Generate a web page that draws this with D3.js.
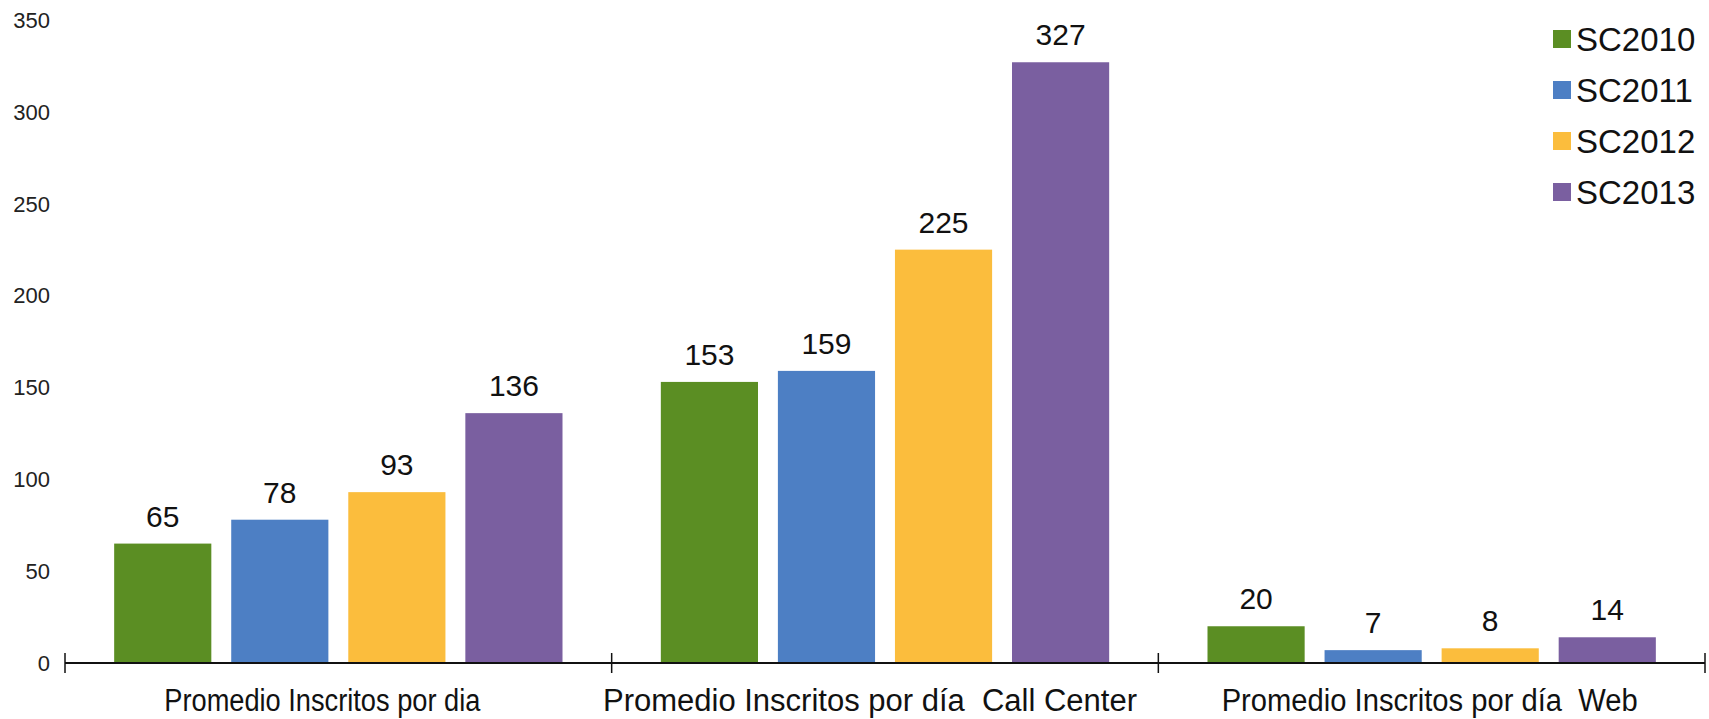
<!DOCTYPE html>
<html>
<head>
<meta charset="utf-8">
<script src="https://cdn.jsdelivr.net/npm/d3@7"></script>
<style>
  html, body { margin: 0; padding: 0; background: #fff; }
  svg { display: block; font-family: "Liberation Sans", Arial, Helvetica, sans-serif; }
</style>
</head>
<body>
<svg id="chart" width="1709" height="719"></svg>
<script>
const categories = [
  "Promedio Inscritos por dia",
  "Promedio Inscritos por día  Call Center",
  "Promedio Inscritos por día  Web"
];
const series = ["SC2010", "SC2011", "SC2012", "SC2013"];
const SC2010 = [65, 153, 20];
const SC2011 = [78, 159, 7];
const SC2012 = [93, 225, 8];
const SC2013 = [136, 327, 14];
const yTicks = [0, 50, 100, 150, 200, 250, 300, 350];
const colors = ["#5b8e23", "#4d7fc4", "#fbbd3d", "#7a5fa0"];

const valuesBySeries = [SC2010, SC2011, SC2012, SC2013];
const svg = d3.select("#chart");

const x0 = d3.scaleBand().domain(categories).range([65, 1705]).paddingInner(0).paddingOuter(0);
const x1 = d3.scaleBand().domain(series).range([0, x0.bandwidth()]).paddingInner(0.17).paddingOuter(0.42);
const y = d3.scaleLinear().domain([0, 350]).range([663, 20]);
const color = d3.scaleOrdinal().domain(series).range(colors);

// y tick labels
svg.append("g").selectAll("text").data(yTicks).join("text")
  .attr("x", 50).attr("y", d => y(d)).attr("dy", "0.36em")
  .attr("text-anchor", "end").attr("font-size", 22).attr("fill", "#222")
  .text(d => d);

// bars
const rows = [];
categories.forEach((c, i) => series.forEach((s, j) => rows.push({c, s, v: valuesBySeries[j][i]})));

svg.append("g").selectAll("rect").data(rows).join("rect")
  .attr("x", d => x0(d.c) + x1(d.s))
  .attr("y", d => y(d.v))
  .attr("width", x1.bandwidth())
  .attr("height", d => y(0) - y(d.v))
  .attr("fill", d => color(d.s));

// value labels
svg.append("g").selectAll("text").data(rows).join("text")
  .attr("x", d => x0(d.c) + x1(d.s) + x1.bandwidth() / 2)
  .attr("y", d => y(d.v) - 17)
  .attr("text-anchor", "middle").attr("font-size", 30).attr("fill", "#111")
  .text(d => d.v);

// x axis
const axisG = svg.append("g").attr("transform", `translate(0,${y(0)})`);
axisG.append("line").attr("x1", 65).attr("x2", 1705).attr("y1", 0).attr("y2", 0)
  .attr("stroke", "#111").attr("stroke-width", 2);
const sepX = [65, ...categories.map(c => x0(c) + x0.bandwidth())];
axisG.selectAll("line.tick").data(sepX).join("line").attr("class", "tick")
  .attr("x1", d => d).attr("x2", d => d).attr("y1", -10).attr("y2", 10)
  .attr("stroke", "#111").attr("stroke-width", 1.5);

// category labels (condensed face in the original)
const catShift = [-16, -15, -2];
const catWidth = [316, 534, 416];
axisG.selectAll("text.cat").data(categories).join("text").attr("class", "cat")
  .attr("x", (d, i) => x0(d) + x0.bandwidth() / 2 + catShift[i])
  .attr("y", 48)
  .attr("text-anchor", "middle").attr("font-size", 31).attr("fill", "#111")
  .style("white-space", "pre")
  .attr("textLength", (d, i) => catWidth[i])
  .attr("lengthAdjust", "spacingAndGlyphs")
  .text(d => d);

// legend
const lg = svg.append("g").attr("transform", "translate(1553,39)");
const li = lg.selectAll("g").data(series).join("g")
  .attr("transform", (d, i) => `translate(0,${i * 51})`);
li.append("rect").attr("x", 0).attr("y", -9).attr("width", 18).attr("height", 18)
  .attr("fill", d => color(d));
li.append("text").attr("x", 23).attr("y", 0).attr("dy", "0.36em")
  .attr("font-size", 33).attr("fill", "#111").text(d => d);
</script>
</body>
</html>
